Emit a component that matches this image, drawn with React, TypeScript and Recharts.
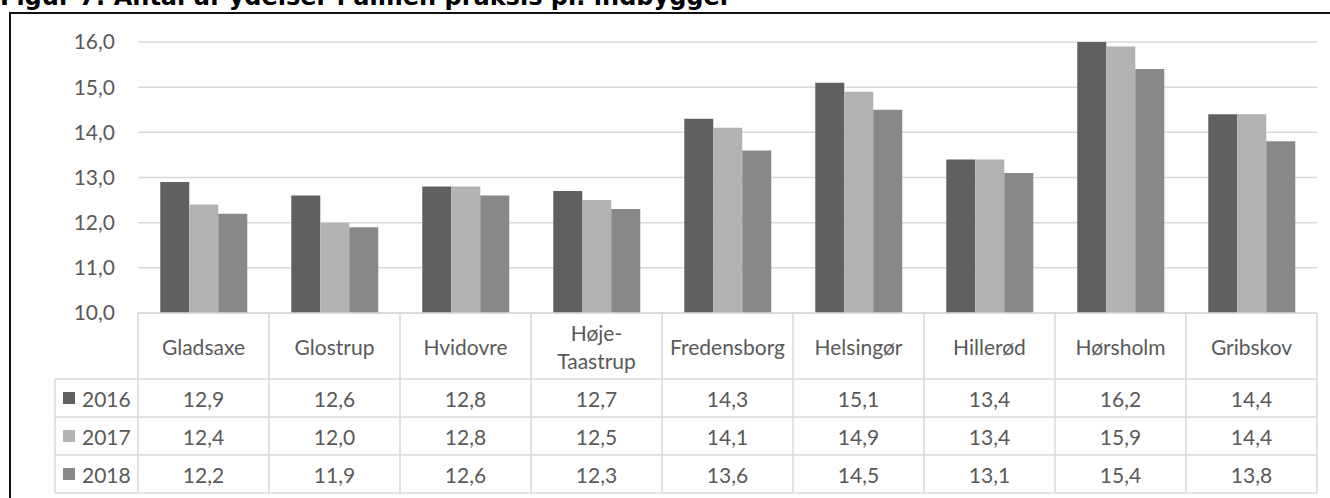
import React from 'react';
import { BarChart, Bar, XAxis, YAxis, CartesianGrid } from 'recharts';

const categories = [
  'Gladsaxe',
  'Glostrup',
  'Hvidovre',
  'Høje-\nTaastrup',
  'Fredensborg',
  'Helsingør',
  'Hillerød',
  'Hørsholm',
  'Gribskov',
];
const years = ['2016', '2017', '2018'];
const values2016 = [12.9, 12.6, 12.8, 12.7, 14.3, 15.1, 13.4, 16.2, 14.4];
const values2017 = [12.4, 12.0, 12.8, 12.5, 14.1, 14.9, 13.4, 15.9, 14.4];
const values2018 = [12.2, 11.9, 12.6, 12.3, 13.6, 14.5, 13.1, 15.4, 13.8];
const yTicks = [10, 11, 12, 13, 14, 15, 16];

const COLORS = ['#606060', '#b2b2b2', '#888888'];
const TEXT = '#595959';
const LINE = '#d9d9d9';
const FONT = 'Lato, "Open Sans", sans-serif';
const FS = 21;

const W = 1330;
const H = 498;
const MARGIN = { top: 42, right: 13, bottom: 5, left: 0 };
const Y_W = 138;
const HEADER_H = 66;
const ROW_H = 38;
const LEGEND_LEFT = 55;
const BAND = (W - MARGIN.left - MARGIN.right - Y_W) / categories.length;

const series = [values2016, values2017, values2018];

const data = categories.map((name, i) => ({
  name,
  y2016: values2016[i],
  y2017: values2017[i],
  y2018: values2018[i],
}));

const fmt = (v: number) => v.toFixed(1).replace('.', ',');

function TableTick(props: any) {
  const { x, y, payload, index } = props;
  const left = x - BAND / 2;
  const right = x + BAND / 2;
  const bottom = y + HEADER_H + ROW_H * years.length;
  const lines = String(payload.value).split('\n');
  const isLast = index === categories.length - 1;

  return (
    <g>
      {/* header cell */}
      <line x1={left} y1={y} x2={left} y2={bottom} stroke={LINE} strokeWidth={1.5} />
      {isLast && <line x1={right} y1={y} x2={right} y2={bottom} stroke={LINE} strokeWidth={1.5} />}
      <line x1={left} y1={y} x2={right} y2={y} stroke={LINE} strokeWidth={1.5} />
      <text
        x={x}
        y={y + HEADER_H / 2 - ((lines.length - 1) * 28) / 2}
        textAnchor="middle"
        dominantBaseline="central"
        fill={TEXT}
        fontSize={FS}
        fontFamily={FONT}
      >
        {lines.map((l, k) => (
          <tspan key={k} x={x} dy={k === 0 ? 0 : 28}>
            {l}
          </tspan>
        ))}
      </text>
      {/* value rows */}
      {series.map((vals, r) => {
        const top = y + HEADER_H + r * ROW_H;
        return (
          <g key={r}>
            <line x1={left} y1={top} x2={right} y2={top} stroke={LINE} strokeWidth={1.5} />
            <text
              x={x}
              y={top + ROW_H / 2}
              textAnchor="middle"
              dominantBaseline="central"
              fill={TEXT}
              fontSize={FS}
              fontFamily={FONT}
            >
              {fmt(vals[index])}
            </text>
          </g>
        );
      })}
      <line x1={left} y1={bottom} x2={right} y2={bottom} stroke={LINE} strokeWidth={1.5} />
      {/* legend column, drawn once */}
      {index === 0 && (
        <g>
          <line x1={LEGEND_LEFT} y1={y + HEADER_H} x2={LEGEND_LEFT} y2={bottom} stroke={LINE} strokeWidth={1.5} />
          {years.map((yr, r) => {
            const top = y + HEADER_H + r * ROW_H;
            return (
              <g key={yr}>
                <line x1={LEGEND_LEFT} y1={top} x2={left} y2={top} stroke={LINE} strokeWidth={1.5} />
                <rect x={LEGEND_LEFT + 8} y={top + ROW_H / 2 - 6} width={12} height={12} fill={COLORS[r]} />
                <text
                  x={LEGEND_LEFT + 27}
                  y={top + ROW_H / 2}
                  dominantBaseline="central"
                  fill={TEXT}
                  fontSize={FS}
                  fontFamily={FONT}
                >
                  {yr}
                </text>
              </g>
            );
          })}
          <line x1={LEGEND_LEFT} y1={bottom} x2={left} y2={bottom} stroke={LINE} strokeWidth={1.5} />
        </g>
      )}
    </g>
  );
}

export default function App() {
  return (
    <div style={{ position: 'absolute', left: 0, top: 0, width: W, height: H, overflow: 'hidden', background: '#fff' }}>
      <div
        style={{
          position: 'absolute',
          left: 0,
          top: -18,
          fontFamily: '"DejaVu Sans", Verdana, sans-serif',
          fontWeight: 'bold',
          fontSize: 24,
          lineHeight: '30px',
          color: '#000',
          whiteSpace: 'nowrap',
        }}
      >
        Figur 7: Antal af ydelser i almen praksis pr. indbygger
      </div>
      <div
        style={{
          position: 'absolute',
          left: 9,
          top: 12,
          width: W,
          height: H,
          borderLeft: '2px solid #111',
          borderTop: '2px solid #111',
        }}
      />
      <div style={{ position: 'absolute', left: 0, top: 0 }}>
        <BarChart width={W} height={H} data={data} margin={MARGIN} barCategoryGap="17%" barGap={0}>
          <CartesianGrid vertical={false} stroke={LINE} strokeWidth={1.5} />
          <XAxis
            dataKey="name"
            height={H - MARGIN.top - MARGIN.bottom - 271}
            axisLine={false}
            tickLine={false}
            tickSize={0}
            tickMargin={0}
            interval={0}
            tick={<TableTick />}
          />
          <YAxis
            width={Y_W}
            domain={[10, 16]}
            ticks={yTicks}
            allowDataOverflow
            axisLine={false}
            tickLine={false}
            tickSize={0}
            tickMargin={23}
            tickFormatter={fmt}
            tick={{ fill: TEXT, fontSize: FS, fontFamily: FONT }}
          />
          {['y2016', 'y2017', 'y2018'].map((k, i) => (
            <Bar key={k} dataKey={k} fill={COLORS[i]} isAnimationActive={false} />
          ))}
        </BarChart>
      </div>
    </div>
  );
}
